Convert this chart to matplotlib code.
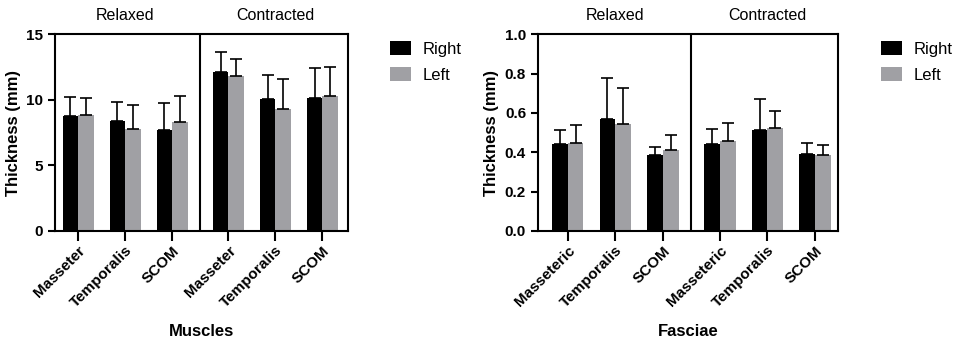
import numpy as np
import matplotlib
matplotlib.use("Agg")
import matplotlib.pyplot as plt

plt.rcParams["font.family"] = ["Liberation Sans", "DejaVu Sans"]

# ---------------------------------------------------------------------------
# Data
# ---------------------------------------------------------------------------
conditions = ["Relaxed", "Contracted"]
muscle_labels = ["Masseter", "Temporalis", "SCOM"]
fascia_labels = ["Masseteric", "Temporalis", "SCOM"]

# muscles, mm — relaxed then contracted
muscle_right = [8.77, 8.37, 7.73, 12.10, 10.09, 10.14]
muscle_right_sd = [1.45, 1.47, 2.06, 1.53, 1.83, 2.29]
muscle_left = [8.87, 7.78, 8.31, 11.80, 9.33, 10.32]
muscle_left_sd = [1.30, 1.83, 1.96, 1.27, 2.26, 2.16]

# fasciae, mm — relaxed then contracted
fascia_right = [0.440, 0.570, 0.384, 0.442, 0.513, 0.391]
fascia_right_sd = [0.073, 0.207, 0.043, 0.077, 0.158, 0.058]
fascia_left = [0.449, 0.543, 0.410, 0.455, 0.524, 0.384]
fascia_left_sd = [0.087, 0.184, 0.076, 0.095, 0.086, 0.055]

RIGHT_C = "black"
LEFT_C = "#a0a0a4"
POS = np.array([0, 1, 2, 3.2, 4.2, 5.2])
BW = 0.33


def panel(ax, right, rsd, left, lsd, labels, ylim, yticks, yfmt, xlabel, xlim, divider):
    ax.bar(POS - BW / 2, right, BW, color=RIGHT_C, label="Right", zorder=2)
    ax.bar(POS + BW / 2, left, BW, color=LEFT_C, label="Left", zorder=2)
    ax.errorbar(POS - BW / 2, right, yerr=[np.zeros(6), rsd], fmt="none",
                ecolor="black", elinewidth=1.2, capsize=4, capthick=1.2, zorder=3)
    ax.errorbar(POS + BW / 2, left, yerr=[np.zeros(6), lsd], fmt="none",
                ecolor="black", elinewidth=1.2, capsize=4, capthick=1.2, zorder=3)
    ax.axvline(divider, color="black", lw=1.5, zorder=1)
    ax.set_xlim(*xlim)
    ax.set_ylim(*ylim)
    ax.set_yticks(yticks)
    ax.set_yticklabels([yfmt.format(v) for v in yticks], fontweight="bold", fontsize=11)
    ax.set_xticks(POS)
    ax.set_xticklabels(labels * 2, rotation=45, ha="right", rotation_mode="anchor",
                       fontweight="bold", fontsize=11)
    ax.tick_params(axis="x", length=7, width=1.5, pad=2)
    ax.tick_params(axis="y", length=5, width=1.5)
    for s in ax.spines.values():
        s.set_linewidth(1.5)
    ax.set_ylabel("Thickness (mm)", fontweight="bold", fontsize=12, labelpad=4)
    ax.set_xlabel(xlabel, fontweight="bold", fontsize=12, labelpad=10)
    trans = ax.get_xaxis_transform()
    ax.text(np.mean(POS[:3]), 1.055, conditions[0], transform=trans, ha="center",
            va="bottom", fontsize=11.5)
    ax.text(np.mean(POS[3:]), 1.055, conditions[1], transform=trans, ha="center",
            va="bottom", fontsize=11.5)
    ax.legend(loc="upper left", bbox_to_anchor=(1.105, 1.025), frameon=False,
              fontsize=12, handlelength=1.25, handleheight=0.9,
              labelspacing=0.65, handletextpad=0.7, borderaxespad=0.3)


fig = plt.figure(figsize=(9.57, 3.4), dpi=100)
ax1 = fig.add_axes([0.0575, 0.3206, 0.306, 0.579])
ax2 = fig.add_axes([0.562, 0.3206, 0.3135, 0.579])

panel(ax1, muscle_right, muscle_right_sd, muscle_left, muscle_left_sd,
      muscle_labels, (0, 15), [0, 5, 10, 15], "{:g}", "Muscles",
      (-0.49, 5.74), 2.6)
panel(ax2, fascia_right, fascia_right_sd, fascia_left, fascia_left_sd,
      fascia_labels, (0, 1.0), [0, 0.2, 0.4, 0.6, 0.8, 1.0], "{:.1f}", "Fasciae",
      (-0.63, 5.68), 2.59)

fig.savefig("out.png", dpi=100)
